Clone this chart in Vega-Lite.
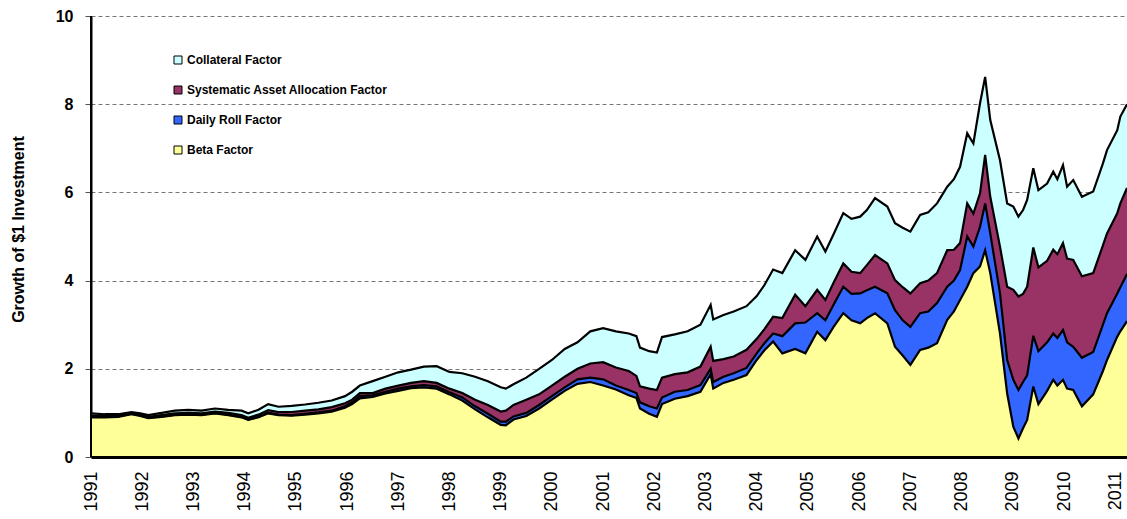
{
  "$schema": "https://vega.github.io/schema/vega-lite/v6.json",
  "width": 1036,
  "height": 441,
  "autosize": {"type": "none"},
  "padding": {"left": 91, "top": 16, "right": 0, "bottom": 62},
  "background": "white",
  "config": {
    "view": {"stroke": null},
    "font": "Liberation Sans"
  },
  "data": {
    "values": [
      {"t": 1991.0, "tot": 0.99, "saa": 0.94, "roll": 0.92, "beta": 0.90},
      {"t": 1991.27, "tot": 0.97, "saa": 0.93, "roll": 0.91, "beta": 0.90},
      {"t": 1991.53, "tot": 0.97, "saa": 0.94, "roll": 0.92, "beta": 0.91},
      {"t": 1991.79, "tot": 1.02, "saa": 0.99, "roll": 0.98, "beta": 0.97},
      {"t": 1991.96, "tot": 0.99, "saa": 0.96, "roll": 0.94, "beta": 0.93},
      {"t": 1992.12, "tot": 0.95, "saa": 0.91, "roll": 0.89, "beta": 0.88},
      {"t": 1992.38, "tot": 1.0, "saa": 0.95, "roll": 0.92, "beta": 0.91},
      {"t": 1992.64, "tot": 1.05, "saa": 0.99, "roll": 0.96, "beta": 0.95},
      {"t": 1992.9, "tot": 1.07, "saa": 1.0, "roll": 0.97, "beta": 0.96},
      {"t": 1993.16, "tot": 1.05, "saa": 0.99, "roll": 0.96, "beta": 0.95},
      {"t": 1993.42, "tot": 1.1, "saa": 1.03, "roll": 1.0, "beta": 0.99},
      {"t": 1993.68, "tot": 1.07, "saa": 1.0, "roll": 0.96, "beta": 0.95},
      {"t": 1993.94, "tot": 1.05, "saa": 0.95, "roll": 0.91, "beta": 0.9},
      {"t": 1994.07, "tot": 0.99, "saa": 0.89, "roll": 0.85, "beta": 0.84},
      {"t": 1994.27, "tot": 1.07, "saa": 0.96, "roll": 0.91, "beta": 0.9},
      {"t": 1994.46, "tot": 1.2, "saa": 1.06, "roll": 1.0, "beta": 0.99},
      {"t": 1994.66, "tot": 1.14, "saa": 1.02, "roll": 0.96, "beta": 0.95},
      {"t": 1994.92, "tot": 1.16, "saa": 1.02, "roll": 0.95, "beta": 0.94},
      {"t": 1995.18, "tot": 1.19, "saa": 1.05, "roll": 0.98, "beta": 0.96},
      {"t": 1995.44, "tot": 1.23, "saa": 1.08, "roll": 1.01, "beta": 0.99},
      {"t": 1995.7, "tot": 1.28, "saa": 1.13, "roll": 1.05, "beta": 1.03},
      {"t": 1995.96, "tot": 1.38, "saa": 1.22, "roll": 1.15, "beta": 1.12},
      {"t": 1996.1, "tot": 1.48, "saa": 1.3, "roll": 1.24, "beta": 1.2},
      {"t": 1996.25, "tot": 1.62, "saa": 1.45, "roll": 1.38, "beta": 1.33},
      {"t": 1996.5, "tot": 1.72, "saa": 1.45, "roll": 1.4, "beta": 1.36},
      {"t": 1996.75, "tot": 1.82, "saa": 1.55, "roll": 1.48, "beta": 1.44},
      {"t": 1997.0, "tot": 1.92, "saa": 1.62, "roll": 1.55, "beta": 1.5},
      {"t": 1997.25, "tot": 1.98, "saa": 1.68, "roll": 1.6, "beta": 1.56},
      {"t": 1997.5, "tot": 2.05, "saa": 1.72, "roll": 1.63, "beta": 1.58},
      {"t": 1997.75, "tot": 2.06, "saa": 1.68, "roll": 1.6, "beta": 1.55},
      {"t": 1998.0, "tot": 1.93, "saa": 1.55, "roll": 1.47, "beta": 1.42},
      {"t": 1998.25, "tot": 1.9, "saa": 1.45, "roll": 1.35, "beta": 1.28},
      {"t": 1998.5, "tot": 1.82, "saa": 1.3, "roll": 1.15, "beta": 1.08},
      {"t": 1998.75, "tot": 1.72, "saa": 1.18, "roll": 0.98, "beta": 0.9},
      {"t": 1999.0, "tot": 1.58, "saa": 1.03, "roll": 0.8, "beta": 0.73},
      {"t": 1999.1, "tot": 1.55, "saa": 1.05, "roll": 0.8, "beta": 0.72},
      {"t": 1999.25, "tot": 1.65, "saa": 1.18, "roll": 0.92, "beta": 0.85},
      {"t": 1999.5, "tot": 1.8, "saa": 1.3, "roll": 1.0, "beta": 0.93},
      {"t": 1999.75, "tot": 2.0, "saa": 1.42, "roll": 1.18, "beta": 1.1},
      {"t": 2000.0, "tot": 2.2, "saa": 1.62, "roll": 1.38, "beta": 1.3},
      {"t": 2000.25, "tot": 2.45, "saa": 1.82, "roll": 1.58, "beta": 1.5},
      {"t": 2000.5, "tot": 2.6, "saa": 2.0, "roll": 1.76, "beta": 1.66},
      {"t": 2000.75, "tot": 2.85, "saa": 2.12, "roll": 1.8, "beta": 1.7},
      {"t": 2001.0, "tot": 2.92, "saa": 2.15, "roll": 1.76, "beta": 1.62},
      {"t": 2001.25, "tot": 2.85, "saa": 2.03, "roll": 1.62, "beta": 1.53},
      {"t": 2001.5, "tot": 2.8, "saa": 1.95, "roll": 1.52, "beta": 1.4},
      {"t": 2001.65, "tot": 2.74, "saa": 1.84, "roll": 1.45, "beta": 1.34},
      {"t": 2001.72, "tot": 2.48, "saa": 1.6, "roll": 1.24, "beta": 1.1},
      {"t": 2001.9, "tot": 2.4, "saa": 1.55, "roll": 1.15, "beta": 0.98},
      {"t": 2002.05, "tot": 2.37, "saa": 1.52, "roll": 1.1, "beta": 0.91},
      {"t": 2002.15, "tot": 2.72, "saa": 1.8, "roll": 1.35, "beta": 1.2},
      {"t": 2002.4, "tot": 2.78, "saa": 1.88, "roll": 1.48, "beta": 1.32},
      {"t": 2002.65, "tot": 2.85, "saa": 1.92, "roll": 1.52, "beta": 1.38},
      {"t": 2002.9, "tot": 3.0, "saa": 2.05, "roll": 1.63, "beta": 1.48},
      {"t": 2003.1, "tot": 3.45, "saa": 2.5, "roll": 2.0, "beta": 1.88},
      {"t": 2003.15, "tot": 3.12, "saa": 2.18, "roll": 1.7, "beta": 1.55},
      {"t": 2003.35, "tot": 3.22, "saa": 2.22, "roll": 1.82, "beta": 1.68},
      {"t": 2003.55, "tot": 3.3, "saa": 2.28, "roll": 1.9, "beta": 1.75},
      {"t": 2003.8, "tot": 3.42, "saa": 2.43, "roll": 2.02, "beta": 1.86},
      {"t": 2004.0, "tot": 3.65, "saa": 2.68, "roll": 2.35, "beta": 2.2},
      {"t": 2004.15, "tot": 3.9, "saa": 2.9, "roll": 2.58, "beta": 2.42},
      {"t": 2004.32, "tot": 4.25, "saa": 3.18, "roll": 2.8, "beta": 2.62},
      {"t": 2004.5, "tot": 4.17, "saa": 3.15, "roll": 2.74, "beta": 2.35},
      {"t": 2004.75, "tot": 4.69, "saa": 3.68, "roll": 3.03, "beta": 2.45},
      {"t": 2004.95, "tot": 4.47, "saa": 3.42, "roll": 3.05, "beta": 2.35},
      {"t": 2005.18, "tot": 5.0, "saa": 3.79, "roll": 3.26, "beta": 2.84},
      {"t": 2005.34, "tot": 4.66, "saa": 3.56, "roll": 3.1, "beta": 2.65},
      {"t": 2005.5, "tot": 5.05, "saa": 3.95, "roll": 3.45, "beta": 2.95},
      {"t": 2005.69, "tot": 5.53, "saa": 4.39, "roll": 3.86, "beta": 3.26},
      {"t": 2005.85, "tot": 5.4, "saa": 4.2, "roll": 3.7, "beta": 3.1},
      {"t": 2006.02, "tot": 5.45, "saa": 4.17, "roll": 3.71, "beta": 3.03},
      {"t": 2006.15, "tot": 5.6, "saa": 4.35, "roll": 3.78, "beta": 3.15},
      {"t": 2006.31, "tot": 5.87, "saa": 4.58, "roll": 3.86, "beta": 3.26},
      {"t": 2006.55, "tot": 5.68, "saa": 4.39, "roll": 3.71, "beta": 3.03},
      {"t": 2006.7, "tot": 5.3, "saa": 4.01, "roll": 3.33, "beta": 2.5},
      {"t": 2006.85, "tot": 5.2, "saa": 3.85, "roll": 3.1, "beta": 2.3},
      {"t": 2007.0, "tot": 5.11, "saa": 3.71, "roll": 2.95, "beta": 2.09},
      {"t": 2007.19, "tot": 5.49, "saa": 3.94, "roll": 3.26, "beta": 2.43},
      {"t": 2007.35, "tot": 5.55, "saa": 4.0, "roll": 3.3, "beta": 2.48},
      {"t": 2007.52, "tot": 5.75, "saa": 4.17, "roll": 3.49, "beta": 2.58},
      {"t": 2007.72, "tot": 6.13, "saa": 4.69, "roll": 3.86, "beta": 3.11},
      {"t": 2007.85, "tot": 6.3, "saa": 4.7, "roll": 4.0, "beta": 3.3},
      {"t": 2007.97, "tot": 6.58, "saa": 4.85, "roll": 4.24, "beta": 3.56},
      {"t": 2008.11, "tot": 7.34, "saa": 5.75, "roll": 5.0, "beta": 3.86},
      {"t": 2008.23, "tot": 7.11, "saa": 5.52, "roll": 4.77, "beta": 4.17},
      {"t": 2008.36, "tot": 8.02, "saa": 5.98, "roll": 5.22, "beta": 4.32},
      {"t": 2008.46, "tot": 8.62, "saa": 6.85, "roll": 5.75, "beta": 4.69},
      {"t": 2008.56, "tot": 7.64, "saa": 5.9, "roll": 5.07, "beta": 4.17},
      {"t": 2008.75, "tot": 6.73, "saa": 4.77, "roll": 3.71, "beta": 2.8},
      {"t": 2008.89, "tot": 5.75, "saa": 3.86, "roll": 2.2, "beta": 1.44},
      {"t": 2009.01, "tot": 5.68, "saa": 3.79, "roll": 1.75, "beta": 0.69},
      {"t": 2009.11, "tot": 5.45, "saa": 3.64, "roll": 1.52, "beta": 0.42},
      {"t": 2009.2, "tot": 5.6, "saa": 3.7, "roll": 1.7, "beta": 0.65},
      {"t": 2009.28, "tot": 5.83, "saa": 3.86, "roll": 1.85, "beta": 0.84},
      {"t": 2009.4, "tot": 6.55, "saa": 4.75, "roll": 2.75, "beta": 1.6},
      {"t": 2009.5, "tot": 6.05, "saa": 4.3, "roll": 2.4, "beta": 1.2},
      {"t": 2009.67, "tot": 6.2, "saa": 4.45, "roll": 2.6, "beta": 1.5},
      {"t": 2009.79, "tot": 6.47, "saa": 4.7, "roll": 2.8, "beta": 1.75},
      {"t": 2009.87, "tot": 6.3, "saa": 4.6, "roll": 2.7, "beta": 1.62},
      {"t": 2009.98, "tot": 6.62, "saa": 4.85, "roll": 2.88, "beta": 1.75},
      {"t": 2010.06, "tot": 6.13, "saa": 4.5, "roll": 2.6, "beta": 1.55},
      {"t": 2010.18, "tot": 6.28, "saa": 4.47, "roll": 2.5, "beta": 1.52},
      {"t": 2010.35, "tot": 5.9, "saa": 4.1, "roll": 2.25, "beta": 1.15},
      {"t": 2010.57, "tot": 6.02, "saa": 4.17, "roll": 2.38, "beta": 1.42},
      {"t": 2010.76, "tot": 6.66, "saa": 4.8, "roll": 3.0, "beta": 1.95},
      {"t": 2010.84, "tot": 6.96, "saa": 5.07, "roll": 3.26, "beta": 2.2},
      {"t": 2011.04, "tot": 7.41, "saa": 5.53, "roll": 3.71, "beta": 2.73},
      {"t": 2011.1, "tot": 7.72, "saa": 5.75, "roll": 3.85, "beta": 2.85},
      {"t": 2011.23, "tot": 8.0, "saa": 6.1, "roll": 4.15, "beta": 3.08}
    ]
  },
  "encoding": {
    "x": {
      "field": "t",
      "type": "quantitative",
      "scale": {"domain": [1991, 2011.23], "nice": false, "zero": false},
      "axis": {
        "values": [1991, 1992, 1993, 1994, 1995, 1996, 1997, 1998, 1999, 2000, 2001, 2002, 2003, 2004, 2005, 2006, 2007, 2008, 2009, 2010, 2011],
        "format": "d",
        "title": null,
        "grid": false,
        "ticks": false,
        "labelAngle": -90,
        "labelAlign": "right",
        "labelBaseline": "middle",
        "labelPadding": 14,
        "labelFont": "Liberation Sans",
        "labelFontSize": 18,
        "labelColor": "black",
        "labelOverlap": false,
        "domainColor": "black",
        "domainWidth": 3,
        "zindex": 1
      }
    }
  },
  "layer": [
    {
      "mark": {"type": "area", "interpolate": "linear"},
      "encoding": {
        "y": {
          "field": "tot",
          "type": "quantitative",
          "stack": null,
          "scale": {"domain": [0, 10], "nice": false},
          "axis": {
            "values": [0, 2, 4, 6, 8, 10],
            "title": "Growth of $1 Investment",
            "titleFont": "Liberation Sans",
            "titleFontSize": 16,
            "titleFontWeight": "bold",
            "titleColor": "black",
            "titleX": -73,
            "titleY": 213,
            "titleAngle": -90,
            "titleAlign": "center",
            "titleBaseline": "middle",
            "labelFont": "Liberation Sans",
            "labelFontSize": 16,
            "labelFontWeight": "bold",
            "labelColor": "black",
            "labelPadding": 12,
            "tickSize": 6,
            "tickColor": "#555555",
            "grid": true,
            "gridColor": "#777777",
            "gridDash": [4, 3],
            "gridWidth": 1,
            "domainColor": "black",
            "domainWidth": 2
          }
        },
        "color": {
          "datum": "Collateral Factor",
          "type": "nominal",
          "scale": {
            "domain": ["Collateral Factor", "Systematic Asset Allocation Factor", "Daily Roll Factor", "Beta Factor"],
            "range": ["#CCFFFF", "#993366", "#3366FF", "#FFFF99"]
          },
          "legend": {
            "title": null,
            "orient": "none",
            "legendX": 81,
            "legendY": 38,
            "padding": 0,
            "symbolType": "square",
            "symbolSize": 64,
            "symbolStrokeColor": "black",
            "symbolStrokeWidth": 1,
            "symbolOpacity": 1,
            "labelFont": "Liberation Sans",
            "labelFontSize": 12,
            "labelFontWeight": "bold",
            "labelColor": "black",
            "labelOffset": 3,
            "rowPadding": 18,
            "labelLimit": 400
          }
        }
      }
    },
    {
      "mark": {"type": "area", "interpolate": "linear"},
      "encoding": {
        "y": {"field": "saa", "type": "quantitative", "stack": null},
        "color": {"datum": "Systematic Asset Allocation Factor", "type": "nominal"}
      }
    },
    {
      "mark": {"type": "area", "interpolate": "linear"},
      "encoding": {
        "y": {"field": "roll", "type": "quantitative", "stack": null},
        "color": {"datum": "Daily Roll Factor", "type": "nominal"}
      }
    },
    {
      "mark": {"type": "area", "interpolate": "linear"},
      "encoding": {
        "y": {"field": "beta", "type": "quantitative", "stack": null},
        "color": {"datum": "Beta Factor", "type": "nominal"}
      }
    },
    {
      "mark": {"type": "line", "color": "black", "strokeWidth": 2.2},
      "encoding": {"y": {"field": "tot", "type": "quantitative", "stack": null}}
    },
    {
      "mark": {"type": "line", "color": "black", "strokeWidth": 2.2},
      "encoding": {"y": {"field": "saa", "type": "quantitative", "stack": null}}
    },
    {
      "mark": {"type": "line", "color": "black", "strokeWidth": 2.2},
      "encoding": {"y": {"field": "roll", "type": "quantitative", "stack": null}}
    },
    {
      "mark": {"type": "line", "color": "black", "strokeWidth": 2.2},
      "encoding": {"y": {"field": "beta", "type": "quantitative", "stack": null}}
    },
    {
      "mark": {"type": "rule", "color": "black", "strokeWidth": 2},
      "encoding": {"x": {"datum": 1991}}
    }
  ]
}
